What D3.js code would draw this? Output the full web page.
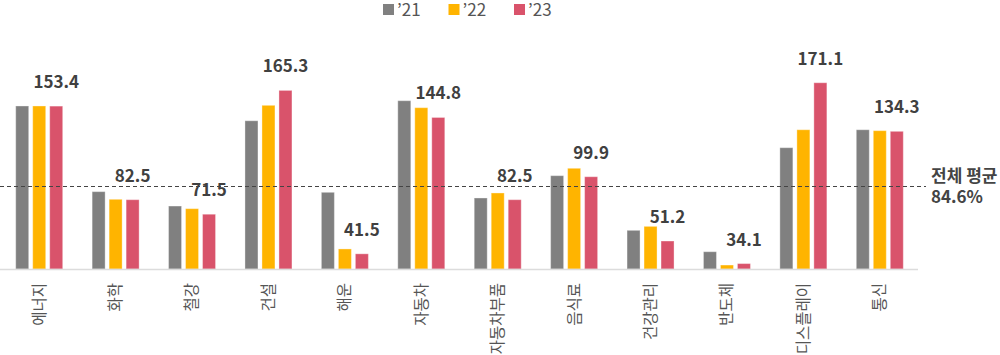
<!DOCTYPE html>
<html>
<head>
<meta charset="utf-8">
<script src="https://cdn.jsdelivr.net/npm/d3@7"></script>
<style>
    body { margin: 0; background: #fff; }
    svg { display: block; font-family: 'Noto Sans CJK KR', 'Noto Sans', sans-serif; }
</style>
</head>
<body>
<div id="chart"></div>
<script>
const categories = ['에너지', '화학', '철강', '건설', '해운', '자동차', '자동차부품', '음식료', '건강관리', '반도체', '디스플레이', '통신'];
const series = ['’21', '’22', '’23'];
const values21 = [153.5, 88.6, 77.7, 142.3, 88.1, 157.5, 83.8, 100.7, 59.3, 43.1, 121.9, 135.5];
const values22 = [153.5, 82.8, 75.7, 154.0, 45.2, 152.2, 87.6, 106.3, 62.3, 33.0, 135.5, 134.8];
const values23 = [153.4, 82.5, 71.5, 165.3, 41.5, 144.8, 82.5, 99.9, 51.2, 34.1, 171.1, 134.3];
const avgLabel = ['전체 평균', '84.6%'];
// where the dashed line sits on the value scale in the picture
const avgLineAt = 92.9;
const colors = ['#808080', '#ffb400', '#d9536b'];

const width = 1000, height = 355;
const baseY = 269;

const svg = d3.select('#chart').append('svg')
    .attr('width', width)
    .attr('height', height);

const x = d3.scaleBand()
    .domain(categories)
    .range([1, 918])
    .paddingInner(0.385)
    .paddingOuter(0.1925);

const xSub = d3.scaleBand()
    .domain(series)
    .range([0, x.bandwidth()])
    .paddingInner(0.235);

const y = d3.scaleLinear()
    .domain([30, 180])
    .range([baseY, 71]);

const rows = categories.map((c, i) => ({
    cat: c,
    vals: [values21[i], values22[i], values23[i]]
}));

// Bars
const groups = svg.append('g')
    .selectAll('g')
    .data(rows)
    .enter().append('g')
    .attr('transform', d => `translate(${x(d.cat)},0)`);

groups.selectAll('rect')
    .data(d => d.vals.map((v, j) => ({ key: series[j], v, j })))
    .enter().append('rect')
    .attr('x', d => xSub(d.key))
    .attr('y', d => y(d.v))
    .attr('width', xSub.bandwidth())
    .attr('height', d => baseY - y(d.v))
    .attr('fill', d => colors[d.j])
    .attr('stroke', '#fff')
    .attr('stroke-opacity', 0.35)
    .attr('stroke-width', 1);

// Axis line
svg.append('line')
    .attr('x1', 0)
    .attr('x2', 918)
    .attr('y1', baseY + 0.5)
    .attr('y2', baseY + 0.5)
    .attr('stroke', '#dcdcdc')
    .attr('stroke-width', 1.5);

// Average line
const avgY = Math.round(y(avgLineAt)) + 0.5;
svg.append('line')
    .attr('x1', 0)
    .attr('x2', 926)
    .attr('y1', avgY)
    .attr('y2', avgY)
    .attr('stroke', '#444')
    .attr('stroke-width', 1)
    .attr('stroke-dasharray', '4,3');

svg.append('text')
    .attr('x', 931)
    .attr('y', avgY - 5)
    .style('font-size', '17px')
    .style('font-weight', 'bold')
    .style('fill', '#444')
    .text(avgLabel[0]);

svg.append('text')
    .attr('x', 931)
    .attr('y', avgY + 16)
    .style('font-size', '17px')
    .style('font-weight', 'bold')
    .style('fill', '#444')
    .text(avgLabel[1]);

// Value labels over '23 bars
svg.append('g')
    .selectAll('text')
    .data(rows)
    .enter().append('text')
    .attr('x', d => x(d.cat) + xSub(series[2]) + xSub.bandwidth() / 2)
    .attr('y', d => y(d.vals[2]) - 18)
    .attr('text-anchor', 'middle')
    .style('font-size', '17px')
    .style('font-weight', 'bold')
    .style('fill', '#404040')
    .text(d => d.vals[2].toFixed(1));

// Category labels
svg.append('g')
    .selectAll('text')
    .data(categories)
    .enter().append('text')
    .attr('transform', d => `translate(${x(d) + x.bandwidth() / 2},283) rotate(-90)`)
    .attr('text-anchor', 'end')
    .attr('dy', '0.35em')
    .style('font-size', '15.5px')
    .style('fill', '#555')
    .text(d => d);

// Legend
const legend = svg.append('g')
    .selectAll('g')
    .data(series)
    .enter().append('g')
    .attr('transform', (d, i) => `translate(${383 + i * 65.5},4)`);

legend.append('rect')
    .attr('width', 11)
    .attr('height', 11)
    .attr('fill', (d, i) => colors[i]);

legend.append('text')
    .attr('x', 14)
    .attr('y', 6)
    .attr('dy', '0.38em')
    .style('font-size', '17px')
    .style('fill', '#555')
    .text(d => d);
</script>
</body>
</html>
